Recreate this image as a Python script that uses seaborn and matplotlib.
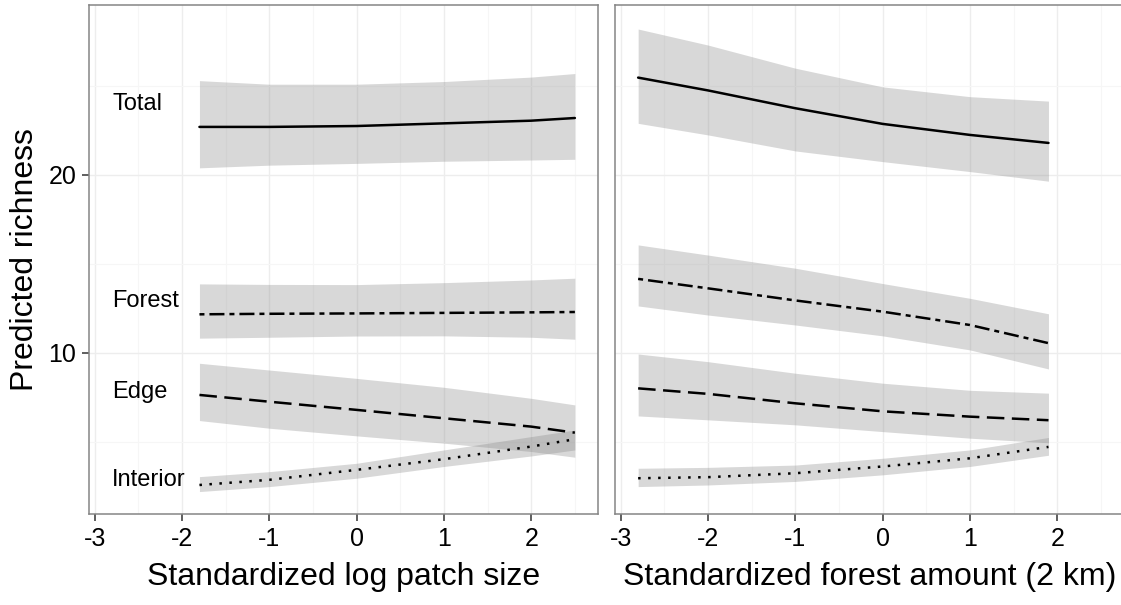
import numpy as np
import pandas as pd
import matplotlib
matplotlib.use("Agg")
import matplotlib.pyplot as plt
import seaborn as sns

# Predicted richness (fit, lower and upper bound) along each standardized predictor
groups = ["Total", "Forest", "Edge", "Interior"]

patch_x = [-1.8, -1.0, 0.0, 1.0, 2.0, 2.5]
patch_total = [22.7, 22.7, 22.75, 22.9, 23.05, 23.2]
patch_total_lo = [20.4, 20.55, 20.65, 20.77, 20.84, 20.88]
patch_total_hi = [25.3, 25.1, 25.1, 25.25, 25.5, 25.7]
patch_forest = [12.17, 12.2, 12.22, 12.25, 12.28, 12.3]
patch_forest_lo = [10.83, 10.88, 10.95, 10.96, 10.88, 10.77]
patch_forest_hi = [13.88, 13.85, 13.84, 13.95, 14.1, 14.2]
patch_edge = [7.64, 7.26, 6.8, 6.33, 5.86, 5.52]
patch_edge_lo = [6.2, 5.77, 5.34, 4.93, 4.46, 4.14]
patch_edge_hi = [9.42, 9.04, 8.57, 8.07, 7.45, 7.08]
patch_interior = [2.58, 2.87, 3.43, 4.03, 4.74, 5.15]
patch_interior_lo = [2.21, 2.49, 2.96, 3.62, 4.21, 4.55]
patch_interior_hi = [3.05, 3.33, 3.8, 4.55, 5.3, 5.67]

forest_x = [-2.8, -2.0, -1.0, 0.0, 1.0, 1.9]
forest_total = [25.47, 24.75, 23.75, 22.87, 22.25, 21.8]
forest_total_lo = [22.9, 22.25, 21.35, 20.75, 20.19, 19.65]
forest_total_hi = [28.2, 27.3, 26.0, 24.95, 24.4, 24.15]
forest_forest = [14.16, 13.63, 12.95, 12.32, 11.57, 10.55]
forest_forest_lo = [12.64, 12.13, 11.57, 10.96, 10.17, 9.1]
forest_forest_hi = [16.07, 15.5, 14.76, 13.9, 13.07, 12.2]
forest_edge = [8.01, 7.7, 7.17, 6.72, 6.42, 6.22]
forest_edge_lo = [6.46, 6.24, 5.96, 5.58, 5.21, 4.95]
forest_edge_hi = [9.94, 9.51, 8.86, 8.3, 7.9, 7.74]
forest_interior = [2.96, 3.02, 3.24, 3.62, 4.08, 4.72]
forest_interior_lo = [2.49, 2.58, 2.78, 3.15, 3.62, 4.25]
forest_interior_hi = [3.52, 3.57, 3.7, 4.08, 4.55, 5.25]

label_y = [24.0, 12.9, 7.8, 2.85]
label_x = -2.8

x_ticks = [-3, -2, -1, 0, 1, 2]
y_ticks = [10, 20]
x_titles = ["Standardized log patch size", "Standardized forest amount (2 km)"]
y_title = "Predicted richness"


def build_frame(x, series):
    rows = []
    for g, (fit, lo, hi) in zip(groups, series):
        for xi, f, l, h in zip(x, fit, lo, hi):
            rows.append({"x": xi, "group": g, "fit": f, "lo": l, "hi": h})
    return pd.DataFrame(rows)


patch_df = build_frame(patch_x, [
    (patch_total, patch_total_lo, patch_total_hi),
    (patch_forest, patch_forest_lo, patch_forest_hi),
    (patch_edge, patch_edge_lo, patch_edge_hi),
    (patch_interior, patch_interior_lo, patch_interior_hi),
])
forest_df = build_frame(forest_x, [
    (forest_total, forest_total_lo, forest_total_hi),
    (forest_forest, forest_forest_lo, forest_forest_hi),
    (forest_edge, forest_edge_lo, forest_edge_hi),
    (forest_interior, forest_interior_lo, forest_interior_hi),
])

sns.set_theme(style="white")
plt.rcParams["font.family"] = ["Liberation Sans", "DejaVu Sans"]
plt.rcParams["axes.unicode_minus"] = False

line_styles = {
    "Total": "-",
    "Forest": (0, (2, 2, 6, 2)),
    "Edge": (0, (7, 3)),
    "Interior": (0, (1, 3)),
}

fig = plt.figure(figsize=(11.21, 6.05), dpi=100)
W, H = 1121, 605
panel_w = (598 - 89) / W
panel_b = 1 - 514 / H
panel_h = (514 - 5) / H
ax_left = fig.add_axes([89 / W, panel_b, panel_w, panel_h])
ax_right = fig.add_axes([615 / W, panel_b, panel_w, panel_h])

border = "#858585"
for ax, df, title in [(ax_left, patch_df, x_titles[0]), (ax_right, forest_df, x_titles[1])]:
    ax.set_xlim(-3.065, 2.765)
    ax.set_ylim(0.95, 29.55)
    ax.set_xticks(x_ticks)
    ax.set_xticks(np.arange(-2.5, 3.0, 1.0), minor=True)
    ax.set_yticks(y_ticks)
    ax.set_yticks([5, 15, 25], minor=True)
    ax.grid(which="major", color="#EDEDED", linewidth=1.0, zorder=0)
    ax.grid(which="minor", color="#F6F6F6", linewidth=0.8, zorder=0)
    ax.set_axisbelow(True)
    for g in groups:
        sub = df[df["group"] == g]
        ax.fill_between(sub["x"], sub["lo"], sub["hi"], color="#808080",
                        alpha=0.3, linewidth=0, zorder=1)
    for g in groups:
        sub = df[df["group"] == g]
        sns.lineplot(data=sub, x="x", y="fit", ax=ax, color="black",
                     linewidth=1.8, linestyle=line_styles[g],
                     estimator=None, sort=False, zorder=3)
    for s in ax.spines.values():
        s.set_visible(True)
        s.set_color(border)
        s.set_linewidth(1.1)
    ax.tick_params(axis="x", which="major", direction="out", length=5,
                   width=1.1, color="#333333", labelsize=18, pad=4,
                   labelcolor="black", bottom=True)
    ax.tick_params(which="minor", length=0)
    ax.set_xlabel(title, fontsize=23, labelpad=8, color="black")
    ax.set_ylabel("")

ax_left.tick_params(axis="y", which="major", direction="out", length=5,
                    width=1.1, color="#333333", labelsize=18, pad=4,
                    labelcolor="black", left=True)
ax_left.set_ylabel(y_title, fontsize=23, labelpad=6, color="black")
ax_right.tick_params(axis="y", which="major", left=False, labelleft=False)

for g, yv in zip(groups, label_y):
    ax_left.text(label_x, yv, g, ha="left", va="center", fontsize=17,
                 color="black", zorder=4)

fig.savefig("out.png", dpi=100)
